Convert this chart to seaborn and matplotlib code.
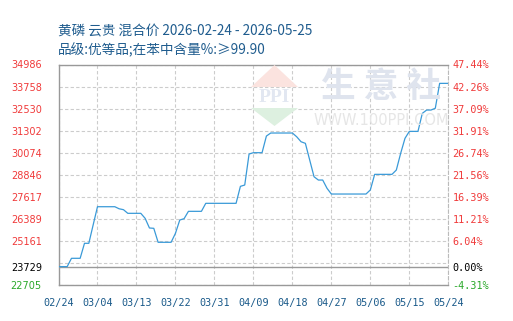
import matplotlib
matplotlib.use("Agg")
import matplotlib.pyplot as plt
from matplotlib.patches import Polygon
import pandas as pd
import seaborn as sns

# values, one per day index
prices = [23729, 23729, 23729, 24192, 24192, 24192, 25027, 25027, 26050, 27065,
          27065, 27065, 27065, 27065, 26950, 26900, 26697, 26697, 26697, 26697,
          26418, 25880, 25862, 25083, 25083, 25083, 25083, 25583, 26324, 26400,
          26808, 26808, 26808, 26808, 27254, 27254, 27254, 27254, 27254, 27254,
          27254, 27254, 28200, 28273, 30000, 30074, 30074, 30074, 31000, 31170,
          31170, 31170, 31170, 31170, 31170, 30960, 30684, 30595, 29665, 28735,
          28551, 28551, 28089, 27772, 27772, 27772, 27772, 27772, 27772, 27772,
          27772, 27772, 28000, 28868, 28868, 28868, 28868, 28868, 29108, 30038,
          30873, 31261, 31261, 31261, 32265, 32449, 32449, 32550, 33935, 33935,
          33935]
days = list(range(len(prices)))

x_labels = ['02/24', '03/04', '03/13', '03/22', '03/31', '04/09',
            '04/18', '04/27', '05/06', '05/15', '05/24']
x_ticks = [0, 9, 18, 27, 36, 45, 54, 63, 72, 81, 90]

y_ticks = [34986, 33758, 32530, 31302, 30074, 28846, 27617, 26389, 25161, 23729, 22705]
pct_labels = ['47.44%', '42.26%', '37.09%', '31.91%', '26.74%', '21.56%',
              '16.39%', '11.21%', '6.04%', '0.00%', '-4.31%']
grid_levels = [22705, 23933, 25161, 26389, 27617, 28846, 30074, 31302, 32530, 33758, 34986]
base_price = 23729

title1 = '黄磷 云贵 混合价 2026-02-24 - 2026-05-25'
title2 = '品级:优等品;在苯中含量%:≥99.90'

df = pd.DataFrame({'day': days, 'price': prices})

sns.set_style('white')
plt.rcParams['font.family'] = ['Noto Sans CJK SC', 'DejaVu Sans']

W, H = 513, 321
fig = plt.figure(figsize=(W / 100, H / 100), dpi=100)
ax = fig.add_axes([58.5 / W, (H - 285) / H, (448.3 - 58.5) / W, (285 - 64.5) / H])

def px(x, y):
    return x / W, 1 - y / H

# watermark
wm_red = Polygon([px(251, 87), px(274.5, 65), px(298, 87)], closed=True,
                 transform=fig.transFigure, facecolor='#fbe3df', edgecolor='none', zorder=0)
wm_green = Polygon([px(251, 108), px(298, 108), px(274.5, 126)], closed=True,
                   transform=fig.transFigure, facecolor='#ddf0e0', edgecolor='none', zorder=0)
fig.patches.extend([wm_red, wm_green])
fig.text(*px(274.5, 98), 'PPI', fontsize=14, color='#e2e7f1', ha='center', va='center',
         family='Liberation Serif', fontweight='bold', zorder=0)
fig.text(*px(381, 87), '生 意 社', fontsize=25, color='#dfe4ee', ha='center', va='center',
         fontweight='bold', zorder=0)
fig.text(*px(381, 121), 'WWW.100PPI.COM', fontsize=10.5, color='#e6e6e6', ha='center',
         va='center', family='DejaVu Sans', zorder=0)
ax.patch.set_alpha(0)

sns.lineplot(data=df, x='day', y='price', ax=ax, color='#3a9ad8', linewidth=0.9, zorder=3)

for lv in grid_levels:
    ax.axhline(lv, color='#cccccc', linestyle=(0, (3, 2)), linewidth=0.8, zorder=1)
for xt in x_ticks:
    ax.axvline(xt, color='#cccccc', linestyle=(0, (3, 2)), linewidth=0.8, zorder=1)
ax.axhline(base_price, color='#999999', linewidth=1.0, zorder=2)

ax.set_xlim(0, 90)
ax.set_ylim(22705, 34986)
ax.set_xticks(x_ticks)
ax.set_xticklabels(x_labels, family='DejaVu Sans Mono', fontsize=7.3, color='#1a5a8a')
ax.set_yticks(y_ticks)
ax.set_yticklabels([str(v) for v in y_ticks], family='DejaVu Sans', fontsize=7.0)
ax.tick_params(axis='x', length=0, pad=9.5)
ax.tick_params(axis='y', length=0, pad=12)
ax.set_xlabel('')
ax.set_ylabel('')

def label_color(v):
    if v > base_price:
        return '#f03a3a'
    if v < base_price:
        return '#2aa82a'
    return '#000000'

for lab, v in zip(ax.get_yticklabels(), y_ticks):
    lab.set_color(label_color(v))

for side in ['left', 'top', 'bottom']:
    ax.spines[side].set_color('#999999')
    ax.spines[side].set_linewidth(1.0)
ax.spines['right'].set_color('#bbbbbb')
ax.spines['right'].set_linestyle((0, (3, 2)))

ax2 = ax.twinx()
ax2.set_ylim(ax.get_ylim())
ax2.set_yticks(y_ticks)
ax2.set_yticklabels(pct_labels, family='DejaVu Sans Mono', fontsize=7.3)
ax2.tick_params(axis='y', length=0, pad=3)
for lab, v in zip(ax2.get_yticklabels(), y_ticks):
    lab.set_color(label_color(v))
for s in ax2.spines.values():
    s.set_visible(False)

fig.text(*px(58, 31), title1, fontsize=9.8, color='#1f5c8e', ha='left', va='center')
fig.text(*px(58, 50), title2, fontsize=9.8, color='#1f5c8e', ha='left', va='center')

fig.savefig('out.png', dpi=100)
